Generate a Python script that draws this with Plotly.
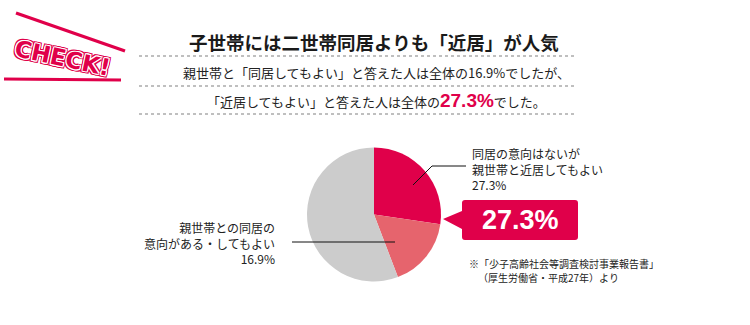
import plotly.graph_objects as go

W, H = 750, 325

# ---- data ----
slice_labels = ["同居の意向はないが親世帯と近居してもよい", "親世帯との同居の意向がある・してもよい", "その他"]
slice_values = [27.3, 16.9, 55.8]
slice_colors = ["#e0004a", "#e6646d", "#cccccc"]

title_text = "子世帯には二世帯同居よりも「近居」が人気"
sub1_text = "親世帯と「同居してもよい」と答えた人は全体の16.9%でしたが、"
sub2_pre = "「近居してもよい」と答えた人は全体の"
sub2_val = "27.3%"
sub2_post = "でした。"
label_top = ["同居の意向はないが", "親世帯と近居してもよい", "27.3%"]
label_left = ["親世帯との同居の", "意向がある・してもよい", "16.9%"]
callout_text = "27.3%"
foot_lines = ["※「少子高齢社会等調査検討事業報告書」", "（厚生労働省・平成27年）より"]

RED = "#e0004a"
JP = "Noto Sans CJK JP"


def px(x):
    return x / W


def py(y):
    return 1 - y / H


fig = go.Figure()

# pie: center (374, 214.5), radius 67
cx, cy, r = 374, 214.5, 67
fig.add_trace(go.Pie(
    values=slice_values, labels=slice_labels, sort=False, direction="clockwise",
    rotation=0, marker=dict(colors=slice_colors, line=dict(width=0)),
    textinfo="none", hoverinfo="skip", showlegend=False,
    domain=dict(x=[px(cx - r), px(cx + r)], y=[py(cy + r), py(cy - r)]),
))

shapes = []
annotations = []

# dotted separators
for yy in [56, 86, 114]:
    shapes.append(dict(type="line", xref="paper", yref="paper",
                       x0=px(139), x1=px(577), y0=py(yy), y1=py(yy),
                       line=dict(color="#aaaaaa", width=1.6, dash="dot")))

# CHECK logo lines
shapes.append(dict(type="line", xref="paper", yref="paper",
                   x0=px(16), y0=py(13), x1=px(125), y1=py(51),
                   line=dict(color=RED, width=3.2)))
shapes.append(dict(type="line", xref="paper", yref="paper",
                   x0=px(4), y0=py(79), x1=px(121), y1=py(80),
                   line=dict(color=RED, width=3.2)))

# leader lines
shapes.append(dict(type="path", xref="paper", yref="paper",
                   path=f"M {px(413)} {py(185)} L {px(432)} {py(166)} L {px(466)} {py(166)}",
                   line=dict(color="#111111", width=1)))
shapes.append(dict(type="line", xref="paper", yref="paper",
                   x0=px(292), y0=py(242), x1=px(395), y1=py(242),
                   line=dict(color="#111111", width=1)))

# callout box with pointer
bx0, bx1, by0, by1, rr = 462, 578, 200, 240, 3
pts = [
    ("M", bx0 + rr, by0), ("L", bx1 - rr, by0), ("Q", bx1, by0, bx1, by0 + rr),
    ("L", bx1, by1 - rr), ("Q", bx1, by1, bx1 - rr, by1),
    ("L", bx0 + rr, by1), ("Q", bx0, by1, bx0, by1 - rr),
    ("L", bx0, 229), ("L", 443, 219), ("L", bx0, 211),
    ("L", bx0, by0 + rr), ("Q", bx0, by0, bx0 + rr, by0),
]
path = ""
for p in pts:
    cmd = p[0]
    coords = p[1:]
    s = []
    for i in range(0, len(coords), 2):
        s.append(f"{px(coords[i]):.5f},{py(coords[i+1]):.5f}")
    path += cmd + " " + " ".join(s) + " "
path += "Z"
shapes.append(dict(type="path", xref="paper", yref="paper", path=path,
                   fillcolor=RED, line=dict(width=0)))


def ann(text, x, y, size, color="#222222", xanchor="center", bold=False, family=JP, align="center", **kw):
    annotations.append(dict(
        text=text, x=px(x), y=py(y), xref="paper", yref="paper",
        xanchor=xanchor, yanchor="middle", showarrow=False, align=align,
        font=dict(family=family, size=size, color=color, weight="bold" if bold else "normal"),
        **kw))


ann(title_text, 374, 42, 18.5, color="#1a1a1a", bold=True)
ann(sub1_text, 376, 72, 13)
ann(sub2_pre + f'<span style="font-family:Liberation Sans;font-size:19px;font-weight:bold;color:{RED}">{sub2_val}</span>' + sub2_post,
    376, 100, 13)

ann("<br>".join(label_top), 470, 169, 12, xanchor="left", align="left")
ann("<br>".join(label_left), 277, 243, 12, xanchor="right", align="right")

ann(callout_text, 520, 220, 27, color="white", bold=True, family="Liberation Sans")

ann(foot_lines[0], 467, 263, 10, xanchor="left")
ann(foot_lines[1], 476, 277.5, 10, xanchor="left")

# CHECK! text with double outline
shadow = ", ".join(
    [f"{dx}px {dy}px 0 #ffffff" for dx, dy in [(1, 0), (-1, 0), (0, 1), (0, -1), (1, 1), (-1, -1), (1, -1), (-1, 1)]]
    + [f"{dx}px {dy}px 0 {RED}" for dx, dy in [(2, 0), (-2, 0), (0, 2), (0, -2), (2, 2), (-2, -2), (2, -2), (-2, 2)]]
)
annotations.append(dict(
    text="CHECK!", x=px(62), y=py(58), xref="paper", yref="paper",
    xanchor="center", yanchor="middle", showarrow=False, textangle=12,
    font=dict(family="DejaVu Sans", size=23, color=RED, weight="bold", shadow=shadow),
))

fig.update_layout(
    width=W, height=H, margin=dict(l=0, r=0, t=0, b=0),
    paper_bgcolor="white", plot_bgcolor="white",
    shapes=shapes, annotations=annotations,
)

fig.write_html("out.html")
